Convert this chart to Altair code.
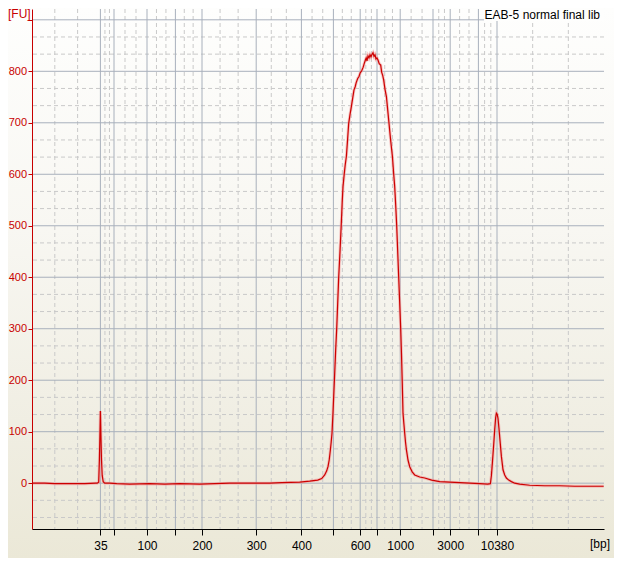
import altair as alt
import pandas as pd

# electropherogram trace: migration position (plot units) and fluorescence (FU)
pos = [0, 12.7, 22.7, 37.7, 52.7, 63.7, 65.2, 66.7, 67.4, 68.0,
       68.4, 68.9, 69.5, 70.2, 71.2, 72.7, 77.7, 84.7, 97.7, 117.7,
       132.7, 147.7, 167.7, 182.7, 197.7, 217.7, 237.7, 249.7, 267.7, 277.7,
       285.7, 289.7, 292.7, 294.7, 296.0, 297.2, 298.4, 299.2, 300.0, 301.0,
       302.4, 303.7, 304.7, 305.7, 306.7, 308.0, 309.2, 310.2, 311.0, 312.2,
       313.2, 314.4, 315.5, 316.7, 318.0, 319.4, 320.7, 322.0, 323.2, 324.2,
       325.7, 327.0, 328.2, 329.7, 331.2, 332.2, 333.4, 334.2, 335.0, 336.0,
       337.0, 338.0, 339.0, 340.0, 341.0, 342.0, 343.0, 344.0, 345.0, 346.0,
       347.2, 348.7, 349.7, 350.7, 351.7, 353.0, 354.4, 355.7, 357.0, 358.7,
       360.4, 361.7, 362.7, 363.7, 364.7, 365.7, 366.7, 367.7, 368.7, 369.5,
       370.2, 371.0, 371.9, 372.7, 373.5, 374.4, 376.0, 377.7, 380.2, 382.7,
       387.7, 392.7, 399.7, 407.7, 417.7, 427.7, 437.7, 447.7, 455.7, 458.4,
       459.4, 460.4, 461.7, 462.7, 463.7, 464.4, 465.2, 466.0, 466.9, 467.7,
       469.4, 471.0, 472.7, 474.4, 476.7, 479.4, 482.7, 487.7, 497.7, 512.7,
       527.7, 542.7, 557.7, 571.7]
fu = [0, 0, -1, -1, -1, 0, 0, 2, 45, 100,
      140, 95, 45, 15, 3, 0, 0, -1, -2, -1,
      -2, -1, -2, -1, 0, 0, 0, 1, 2, 4,
      6, 9, 16, 24, 32, 45, 65, 80, 97, 137,
      200, 260, 300, 350, 400, 450, 500, 545, 576, 600,
      618, 635, 665, 699, 716, 732, 748, 764, 770, 778,
      786, 790, 797, 801, 808, 815, 822, 826, 820, 830,
      826, 832, 828, 833, 836, 829, 832, 824, 826, 822,
      815, 812, 798, 792, 783, 765, 751, 725, 699, 665,
      635, 600, 576, 540, 500, 450, 400, 350, 300, 250,
      200, 136, 115, 97, 80, 65, 45, 32, 22, 16,
      12, 10, 6, 3, 2, 1, 0, -1, -2, -1,
      15, 40, 75, 104, 128, 136, 134, 126, 108, 90,
      52, 26, 16, 10, 6, 3, 0, -2, -4, -5,
      -5, -6, -6, -6]

# ladder (size standard) positions and their bp labels
ladder_pos = [68.4, 82.0, 115.0, 143.4, 170.0, 224.2, 269.4, 301.4, 328.2,
              345.0, 368.2, 401.0, 418.2, 446.4, 465.0]
ladder_label = ["35", "", "100", "", "200", "300", "400", "", "600",
                "", "1000", "", "3000", "", "10380"]
fu_ticks = [0, 100, 200, 300, 400, 500, 600, 700, 800, 900]

X_MAX = 572
Y_MIN, Y_MAX = -89, 921
W, H = 572, 520

# minor (dashed) grid: thirds between major lines
bounds = [0] + ladder_pos + [X_MAX]
x_minor = []
for a, b in zip(bounds[:-1], bounds[1:]):
    x_minor += [a + (b - a) / 3, a + 2 * (b - a) / 3]
y_minor = [t + d for t in range(-100, 900, 100) for d in (100 / 3, 200 / 3)
           if Y_MIN < t + d < Y_MAX]

xscale = alt.Scale(domain=[0, X_MAX], nice=False, zero=False)
yscale = alt.Scale(domain=[Y_MIN, Y_MAX], nice=False, zero=False)

expr = "''"
for p, l in reversed(list(zip(ladder_pos, ladder_label))):
    expr = f"datum.value == {p} ? '{l}' : ({expr})"

FONT = "Liberation Sans"
RED = "#C80000"
GRID = "#A8B0BC"
MINOR = "#C9C9C9"

xaxis = alt.Axis(values=ladder_pos, labelExpr=expr, grid=False, title=None,
                 domainColor="#000000", tickColor="#000000", tickSize=6,
                 labelColor="#000000", labelFont=FONT, labelFontSize=12,
                 labelBaseline="alphabetic", labelPadding=14,
                 labelOverlap=False, labelFlush=False, zindex=1)
yaxis = alt.Axis(values=fu_ticks, labelExpr="datum.value == 900 ? '' : datum.label",
                 grid=False, title=None, domainColor=RED, tickColor=RED,
                 tickSize=4, labelColor=RED, labelFont=FONT, labelFontSize=11,
                 labelPadding=1.5, labelOverlap=False, zindex=1)

one = pd.DataFrame({"k": [0]})

bg = alt.Chart(one).mark_rect(
    color=alt.LinearGradient(
        gradient="linear", x1=0, x2=0, y1=0, y2=1,
        stops=[alt.GradientStop(offset=0, color="#FEFEFD"),
               alt.GradientStop(offset=0.4, color="#F8F7F2"),
               alt.GradientStop(offset=0.75, color="#F0EEE3"),
               alt.GradientStop(offset=1, color="#EBE8D7")])
).encode(x=alt.value(-24), x2=alt.value(W + 10), y=alt.value(-1), y2=alt.value(H + 30))

vdash = alt.Chart(pd.DataFrame({"pos": x_minor})).mark_rule(
    color=MINOR, strokeDash=[4, 3], strokeWidth=1
).encode(x=alt.X("pos:Q", scale=xscale, axis=xaxis))
hdash = alt.Chart(pd.DataFrame({"fu": y_minor})).mark_rule(
    color=MINOR, strokeDash=[4, 3], strokeWidth=1
).encode(y=alt.Y("fu:Q", scale=yscale, axis=yaxis))
vsolid = alt.Chart(pd.DataFrame({"pos": ladder_pos})).mark_rule(
    color=GRID, strokeWidth=1
).encode(x=alt.X("pos:Q", scale=xscale, axis=xaxis))
hsolid = alt.Chart(pd.DataFrame({"fu": fu_ticks})).mark_rule(
    color=GRID, strokeWidth=1
).encode(y=alt.Y("fu:Q", scale=yscale, axis=yaxis))

df = pd.DataFrame({"pos": pos, "fu": fu})

glow = alt.Chart(df).mark_line(color="#F2A0A0", strokeWidth=3, opacity=0.6).encode(
    x=alt.X("pos:Q", scale=xscale, axis=xaxis),
    y=alt.Y("fu:Q", scale=yscale, axis=yaxis))
line = alt.Chart(df).mark_line(color="#CC0000", strokeWidth=1.2).encode(
    x=alt.X("pos:Q", scale=xscale, axis=xaxis),
    y=alt.Y("fu:Q", scale=yscale, axis=yaxis))

box = alt.Chart(one).mark_rect(color="#FEFEFD").encode(
    x=alt.value(452), x2=alt.value(W), y=alt.value(-1), y2=alt.value(12))
title_txt = alt.Chart(one).mark_text(
    text="EAB-5 normal final lib", align="right", baseline="alphabetic",
    font=FONT, fontSize=12, color="#000000"
).encode(x=alt.value(568), y=alt.value(9.5))
fu_txt = alt.Chart(one).mark_text(
    text="[FU]", align="left", baseline="alphabetic",
    font=FONT, fontSize=12, color=RED
).encode(x=alt.value(-24), y=alt.value(9))
bp_txt = alt.Chart(one).mark_text(
    text="[bp]", align="left", baseline="alphabetic",
    font=FONT, fontSize=12, color="#000000"
).encode(x=alt.value(558), y=alt.value(H + 19))

chart = alt.layer(
    bg, vdash, hdash, vsolid, hsolid, glow, line, box, title_txt, fu_txt, bp_txt
).properties(
    width=W, height=H,
    autosize=alt.AutoSizeParams(type="none"),
    padding={"left": 24, "top": 1, "right": 10, "bottom": 29},
    background="#FFFFFF",
).configure_view(stroke=None)

chart.save("out.html", embed_options={"renderer": "svg", "actions": False})
